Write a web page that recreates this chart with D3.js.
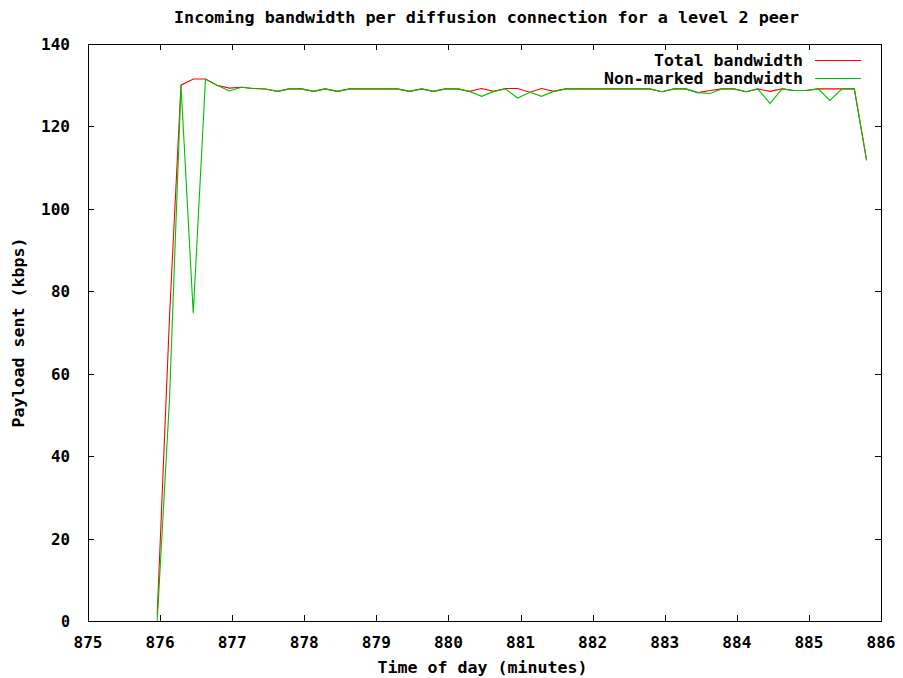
<!DOCTYPE html>
<html>
<head>
<meta charset="utf-8">
<script src="https://cdn.jsdelivr.net/npm/d3@7/dist/d3.min.js"></script>
<style>
  body { margin: 0; background: #fff; }
  text { font-family: "DejaVu Sans Mono", "Liberation Mono", monospace; fill: #000; font-weight: bold; }
</style>
</head>
<body>
<div id="chart"></div>
<script>
// sample times (minutes), one sample every 10 s
var times = [875.96, 876.13, 876.29, 876.46, 876.63, 876.79, 876.96, 877.13, 877.29, 877.46,
             877.63, 877.79, 877.96, 878.13, 878.29, 878.46, 878.63, 878.79, 878.96, 879.13,
             879.29, 879.46, 879.63, 879.79, 879.96, 880.13, 880.29, 880.46, 880.63, 880.79,
             880.96, 881.13, 881.29, 881.46, 881.63, 881.79, 881.96, 882.13, 882.29, 882.46,
             882.63, 882.79, 882.96, 883.13, 883.29, 883.46, 883.63, 883.79, 883.96, 884.13,
             884.29, 884.46, 884.63, 884.79, 884.96, 885.13, 885.29, 885.46, 885.63, 885.80];

var totalBw = [1.5, 73.5, 130.0, 131.5, 131.5, 130.0, 129.3, 129.5, 129.2, 129.1,
               128.5, 129.1, 129.1, 128.5, 129.1, 128.5, 129.1, 129.1, 129.1, 129.1,
               129.1, 128.5, 129.1, 128.5, 129.1, 129.1, 128.5, 129.2, 128.5, 129.2,
               129.2, 128.3, 129.2, 128.5, 129.1, 129.1, 129.1, 129.1, 129.1, 129.1,
               129.1, 129.1, 128.4, 129.1, 129.1, 128.2, 128.7, 129.1, 129.1, 128.4,
               129.1, 128.5, 129.1, 128.7, 128.7, 129.1, 129.1, 129.1, 129.1, 111.8];

var nonMarkedBw = [0.0, 53.6, 130.0, 74.7, 131.5, 130.0, 128.6, 129.5, 129.2, 129.1,
                   128.5, 129.1, 129.1, 128.5, 129.1, 128.5, 129.1, 129.1, 129.1, 129.1,
                   129.1, 128.5, 129.1, 128.5, 129.1, 129.1, 128.5, 127.3, 128.5, 129.1,
                   126.9, 128.3, 127.3, 128.5, 129.1, 129.1, 129.1, 129.1, 129.1, 129.1,
                   129.1, 129.1, 128.4, 129.1, 129.1, 128.2, 128.0, 129.1, 129.1, 128.4,
                   129.1, 125.6, 129.1, 128.7, 128.7, 129.1, 126.3, 129.1, 129.1, 111.8];

var xTicks = [875, 876, 877, 878, 879, 880, 881, 882, 883, 884, 885, 886];
var yTicks = [0, 20, 40, 60, 80, 100, 120, 140];

var seriesNames = ["Total bandwidth", "Non-marked bandwidth"];
var seriesColors = ["#ff0000", "#00c000"];

var W = 903, H = 678;
var margin = {top: 44, right: 22, bottom: 57, left: 88};
var w = W - margin.left - margin.right;
var h = H - margin.top - margin.bottom;

var svg = d3.select("#chart").append("svg")
    .attr("width", W)
    .attr("height", H);

var g = svg.append("g")
    .attr("transform", "translate(" + margin.left + "," + margin.top + ")");

var x = d3.scaleLinear().domain([875, 886]).range([0, w]);
var y = d3.scaleLinear().domain([0, 140]).range([h, 0]);

// ticks on all four sides, pointing inward (gnuplot mirror style)
var tickLen = 6;
var ticks = g.append("g").attr("stroke", "#000").attr("shape-rendering", "crispEdges");
xTicks.forEach(function(t) {
    var px = Math.round(x(t)) + 0.5;
    ticks.append("line").attr("x1", px).attr("x2", px).attr("y1", h).attr("y2", h - tickLen);
    ticks.append("line").attr("x1", px).attr("x2", px).attr("y1", 0).attr("y2", tickLen);
});
yTicks.forEach(function(t) {
    var py = Math.round(y(t)) + 0.5;
    ticks.append("line").attr("x1", 0).attr("x2", tickLen).attr("y1", py).attr("y2", py);
    ticks.append("line").attr("x1", w).attr("x2", w - tickLen).attr("y1", py).attr("y2", py);
});

// tick labels
g.selectAll(".xl").data(xTicks).enter().append("text")
    .attr("x", function(d) { return x(d); })
    .attr("y", h + 27)
    .attr("text-anchor", "middle")
    .attr("font-size", "16px")
    .attr("textLength", 29)
    .attr("lengthAdjust", "spacingAndGlyphs")
    .text(function(d) { return d; });

g.selectAll(".yl").data(yTicks).enter().append("text")
    .attr("x", -18)
    .attr("y", function(d) { return y(d) + 6; })
    .attr("text-anchor", "end")
    .attr("font-size", "16px")
    .text(function(d) { return d; })
    .each(function(d) {
        var n = String(d).length;
        d3.select(this).attr("textLength", n * 10 - 1).attr("lengthAdjust", "spacingAndGlyphs");
    });

// data lines
var line = d3.line()
    .x(function(d, i) { return x(times[i]); })
    .y(function(d) { return y(d); });

[totalBw, nonMarkedBw].forEach(function(vals, i) {
    g.append("path")
        .datum(vals)
        .attr("fill", "none")
        .attr("stroke", seriesColors[i])
        .attr("stroke-width", 1.1)
        .attr("d", line);
});

// frame
g.append("rect")
    .attr("x", 0.5).attr("y", 0.5)
    .attr("width", w).attr("height", h)
    .attr("fill", "none")
    .attr("stroke", "#000")
    .attr("shape-rendering", "crispEdges");

// legend, top right inside the frame
var legend = g.append("g");
seriesNames.forEach(function(name, i) {
    var ly = 16 + i * 18;
    legend.append("text")
        .attr("x", w - 78)
        .attr("y", ly + 6)
        .attr("text-anchor", "end")
        .attr("font-size", "16px")
        .attr("textLength", name.length * 10 - 1)
        .attr("lengthAdjust", "spacingAndGlyphs")
        .text(name);
    legend.append("line")
        .attr("x1", w - 66).attr("x2", w - 20)
        .attr("y1", ly + 0.5).attr("y2", ly + 0.5)
        .attr("stroke", seriesColors[i])
        .attr("shape-rendering", "crispEdges");
});

// title and axis titles
var title = "Incoming bandwidth per diffusion connection for a level 2 peer";
svg.append("text")
    .attr("x", margin.left + w / 2 + 2)
    .attr("y", 23)
    .attr("text-anchor", "middle")
    .attr("font-size", "16px")
    .attr("textLength", 625)
    .attr("lengthAdjust", "spacingAndGlyphs")
    .text(title);

var xTitle = "Time of day (minutes)";
svg.append("text")
    .attr("x", margin.left + w / 2 - 2)
    .attr("y", 673)
    .attr("text-anchor", "middle")
    .attr("font-size", "16px")
    .attr("textLength", 210)
    .attr("lengthAdjust", "spacingAndGlyphs")
    .text(xTitle);

var yTitle = "Payload sent (kbps)";
svg.append("text")
    .attr("transform", "translate(24," + (margin.top + h / 2) + ") rotate(-90)")
    .attr("text-anchor", "middle")
    .attr("font-size", "16px")
    .attr("textLength", 190)
    .attr("lengthAdjust", "spacingAndGlyphs")
    .text(yTitle);
</script>
</body>
</html>
